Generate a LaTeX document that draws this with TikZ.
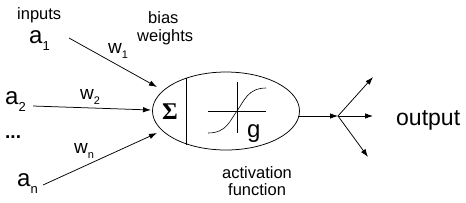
\documentclass[tikz,border=0pt]{standalone}
\usepackage{fontspec}
\setmainfont{Liberation Sans}
\newfontfamily\serifsym{Liberation Serif}
\usetikzlibrary{shapes.geometric,arrows.meta}
\newcommand{\lowidx}[2][13]{\raisebox{-0.3em}{\fontsize{#1}{#1}\selectfont #2}}

\begin{document}
\begin{tikzpicture}[x=1pt,y=-1pt,
    txt/.style={font=\fontsize{16.5}{17}\selectfont, inner sep=0pt, anchor=base west},
    inlab/.style={font=\fontsize{24}{24}\selectfont, inner sep=0pt, anchor=base west},
    wlab/.style={font=\fontsize{19}{19}\selectfont, inner sep=0pt, anchor=base west},
    arr/.style={-{Latex[length=8pt,width=5.5pt]}, line width=0.75pt}]
    \useasboundingbox (0,0) rectangle (466,202);

    % entrees et poids
    \node[txt] (inputs) at (17,19) {inputs};
    \node[inlab] (a1) at (29,43) {a\lowidx{1}};
    \node[inlab] (a2) at (5,104) {a\lowidx{2}};
    \node[inlab, font=\bfseries\fontsize{19}{19}\selectfont] (dots) at (5,138) {...};
    \node[inlab] (an) at (17,186) {a\lowidx{n}};
    \node[wlab] (w1) at (108,53) {w\lowidx[11]{1}};
    \node[wlab] (w2) at (80,99) {w\lowidx[11]{2}};
    \node[wlab] (wn) at (74,153) {w\lowidx[11]{n}};
    \node[txt] (bias) at (148,23) {bias};
    \node[txt] (weights) at (137,41) {weights};

    % neurone
    \node[draw, ellipse, line width=0.75pt, minimum width=147pt, minimum height=78pt, inner sep=0pt] (neuron) at (226,111) {};
    \draw[line width=0.75pt] (186,77.5) -- (186,144.5);
    \node[font=\serifsym\bfseries\fontsize{24}{24}\selectfont] (sigma) at (170,112) {Σ};
    \draw[line width=0.75pt] (208,111) -- (266,111);
    \draw[line width=0.75pt] (237,82) -- (237,133);
    \draw[line width=0.6pt] (208,133) .. controls (227,133) and (230,120) .. (237,111)
        .. controls (244,101) and (248,88) .. (266,88);
    \node[inlab] (g) at (247,137) {g};

    \coordinate (in1) at (157,87);
    \coordinate (in2) at (151,110);
    \coordinate (inn) at (157,133);
    \coordinate (s1) at (69,38);
    \coordinate (s2) at (33,106);
    \coordinate (sn) at (43,185);
    \draw[arr] (s1) -- (in1);
    \draw[arr] (s2) -- (in2);
    \draw[arr] (sn) -- (inn);

    % sortie
    \coordinate (out) at (298,116);
    \coordinate (split) at (338,116);
    \coordinate (o1) at (373,77);
    \coordinate (o2) at (373,116);
    \coordinate (o3) at (368,157);
    \draw[arr] (out) -- (split);
    \draw[arr] (split) -- (o1);
    \draw[arr] (split) -- (o2);
    \draw[arr] (split) -- (o3);
    \node[inlab, font=\fontsize{23}{23}\selectfont] (output) at (396,125) {output};

    \node[txt] (act) at (222,178) {activation};
    \node[txt] (fn) at (228,195) {function};
\end{tikzpicture}
\end{document}
